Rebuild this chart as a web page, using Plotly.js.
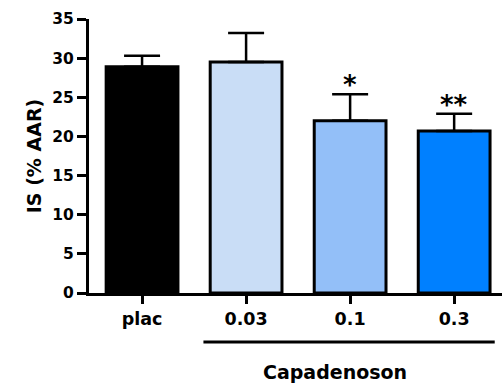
<!DOCTYPE html>
<html><head><meta charset="utf-8">
<script src="https://cdn.plot.ly/plotly-3.0.1.min.js"></script>
<style>html,body{margin:0;padding:0;background:#fff}#chart{width:502px;height:387px}</style>
</head><body><div id="chart"></div>
<script>
const categories = ["plac", "0.03", "0.1", "0.3"];
const values = [28.9, 29.5, 22.0, 20.7];
const errorsUp = [1.4, 3.7, 3.4, 2.2];
const barColors = ["#000000", "#c9ddf6", "#93bff8", "#0080ff"];
const significance = ["", "", "*", "**"];
const sigY = [0, 0, 26.6, 24.0];
const yTicks = [0, 5, 10, 15, 20, 25, 30, 35];
const groupLabel = "Capadenoson";

const FONT = "'DejaVu Sans', Verdana, sans-serif";

const trace = {
  type: "bar",
  x: categories,
  y: values,
  width: 0.69,
  marker: {color: barColors, line: {color: "#000", width: 3}},
  error_y: {type: "data", symmetric: false, array: errorsUp, arrayminus: values.map(() => 0),
            color: "#000", thickness: 2.5, width: 18, visible: true},
  hoverinfo: "none"
};

const annotations = [];
categories.forEach((c, i) => {
  if (significance[i]) {
    annotations.push({x: i, y: sigY[i], xref: "x", yref: "y", text: significance[i],
      xanchor: "center", yanchor: "middle",
      showarrow: false, font: {family: FONT, size: 26, color: "#000", weight: "bold"}});
  }
});
annotations.push({x: 1.85, y: -0.288, xref: "x", yref: "paper", text: groupLabel, showarrow: false,
  xanchor: "center", yanchor: "middle",
  font: {family: FONT, size: 19, color: "#000", weight: "bold"}});

const layout = {
  width: 502, height: 387,
  margin: {l: 89, r: 0, t: 19, b: 94, pad: 0},
  paper_bgcolor: "#fff", plot_bgcolor: "#fff",
  showlegend: false,
  xaxis: {
    type: "category", range: [-0.51, 3.46],
    showline: true, linecolor: "#000", linewidth: 3,
    ticks: "outside", ticklen: 8, tickwidth: 3, tickcolor: "#000",
    tickfont: {family: FONT, size: 17.5, color: "#000", weight: "bold"},
    showgrid: false, zeroline: false, fixedrange: true
  },
  yaxis: {
    range: [0, 35], tickvals: yTicks,
    showline: true, linecolor: "#000", linewidth: 3,
    ticks: "outside", ticklen: 9, tickwidth: 3, tickcolor: "#000",
    tickfont: {family: FONT, size: 15.5, color: "#000", weight: "bold"},
    showgrid: false, zeroline: false, fixedrange: true,
    title: {text: "IS (% AAR)", font: {family: FONT, size: 19, color: "#000", weight: "bold"}, standoff: 6}
  },
  shapes: [{type: "line", xref: "x", yref: "paper", x0: 0.59, x1: 3.39, y0: -0.179, y1: -0.179,
            line: {color: "#000", width: 3}}],
  annotations: annotations
};
Plotly.newPlot("chart", [trace], layout, {displayModeBar: false, staticPlot: true});
</script></body></html>
